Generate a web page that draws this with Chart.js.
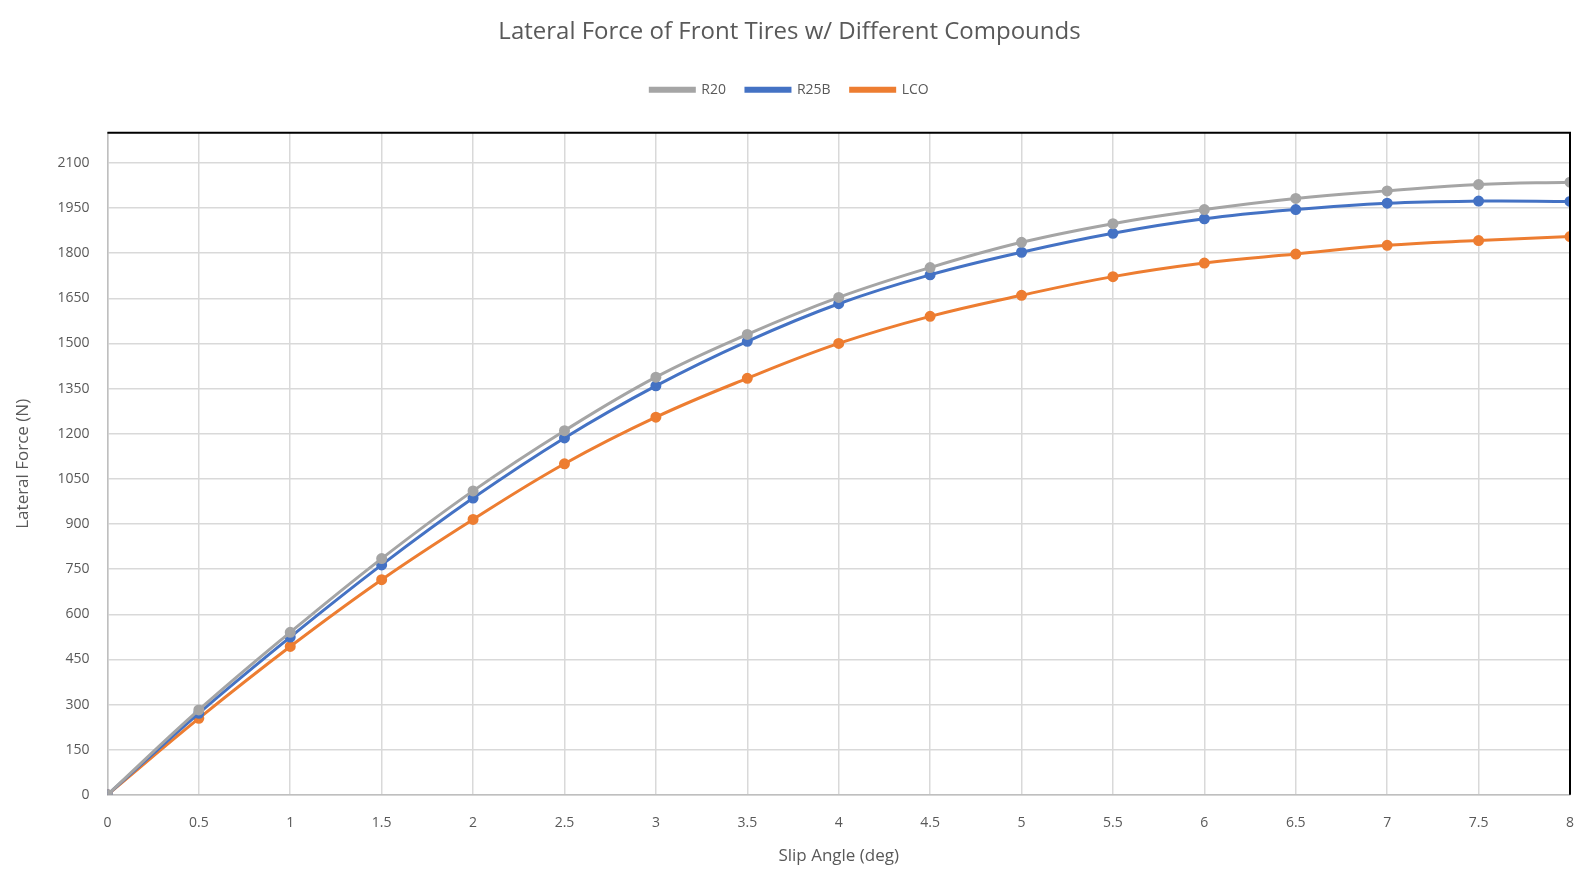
<!DOCTYPE html>
<html>
<head>
<meta charset="utf-8">
<script src="https://cdn.jsdelivr.net/npm/chart.js@4"></script>
<style>
  html, body { margin: 0; padding: 0; background: #fff; }
  #wrap { width: 1582px; height: 890px; }
</style>
</head>
<body>
<div id="wrap"><canvas id="myChart"></canvas></div>
<script>
// slip angles (deg)
const slipAngles = [0, 0.5, 1, 1.5, 2, 2.5, 3, 3.5, 4, 4.5, 5, 5.5, 6, 6.5, 7, 7.5, 8];

// lateral force (N)
const r20 = [0, 282, 540, 785, 1010, 1210, 1388, 1530, 1653, 1752, 1836, 1898, 1945, 1982, 2007, 2028, 2036];
const r25b = [0, 271, 524, 764, 986, 1186, 1359, 1507, 1632, 1728, 1803, 1866, 1914, 1945, 1966, 1973, 1972];
const lco = [0, 254, 493, 715, 915, 1100, 1255, 1384, 1500, 1590, 1660, 1722, 1767, 1797, 1826, 1842, 1855];

const seriesNames = ["R20", "R25B", "LCO"];
const seriesColors = ["#a5a5a5", "#4472c4", "#ed7d31"];

const textColor = "#595959";
const fontName = "'Open Sans', 'Liberation Sans', sans-serif";

function toPoints(values) {
    return slipAngles.map((x, i) => ({ x: x, y: values[i] }));
}

const allSeries = [r20, r25b, lco];
const datasets = allSeries.map((vals, i) => ({
    label: seriesNames[i],
    data: toPoints(vals),
    borderColor: seriesColors[i],
    backgroundColor: seriesColors[i],
    borderWidth: 3,
    pointRadius: 4,
    pointHoverRadius: 4,
    tension: 0.4,
    fill: false
}));

// black frame on top and right of the plot area, like the original
const framePlugin = {
    id: "frame",
    beforeInit(chart) {
        // extra room under the legend
        const origFit = chart.legend.fit;
        chart.legend.fit = function () {
            origFit.bind(chart.legend)();
            this.height += 26;
        };
    },
    afterDraw(chart) {
        const a = chart.chartArea;
        const ctx = chart.ctx;
        ctx.save();
        ctx.strokeStyle = "#000";
        ctx.lineWidth = 2;
        ctx.beginPath();
        ctx.moveTo(a.left, a.top);
        ctx.lineTo(a.right, a.top);
        ctx.lineTo(a.right, a.bottom);
        ctx.stroke();
        ctx.restore();
    }
};

const config = {
    type: "line",
    data: { datasets: datasets },
    plugins: [framePlugin],
    options: {
        responsive: true,
        maintainAspectRatio: false,
        animation: false,
        layout: { padding: { left: 9, right: 12, top: 6, bottom: 20 } },
        plugins: {
            title: {
                display: true,
                text: "Lateral Force of Front Tires w/ Different Compounds",
                color: textColor,
                font: { family: fontName, size: 24, weight: "normal" },
                padding: { top: 12, bottom: 16 }
            },
            legend: {
                display: true,
                labels: {
                    color: textColor,
                    font: { family: fontName, size: 14 },
                    boxWidth: 44,
                    boxHeight: 3,
                    padding: 20
                }
            },
            tooltip: { enabled: false }
        },
        scales: {
            x: {
                type: "linear",
                min: 0,
                max: 8,
                ticks: {
                    stepSize: 0.5,
                    color: textColor,
                    font: { family: fontName, size: 14 },
                    maxRotation: 0,
                    padding: 4,
                    callback: v => String(v)
                },
                grid: { color: "#d9d9d9", lineWidth: 1.5, drawTicks: true, tickLength: 16, tickColor: "rgba(0,0,0,0)" },
                border: { color: "#bfbfbf", width: 1.5 },
                title: {
                    display: true,
                    text: "Slip Angle (deg)",
                    color: textColor,
                    font: { family: fontName, size: 17 },
                    padding: { top: 10 }
                }
            },
            y: {
                min: 0,
                max: 2200,
                afterBuildTicks(scale) {
                    scale.ticks = scale.ticks.filter(t => t.value % 150 === 0);
                },
                ticks: {
                    stepSize: 150,
                    color: textColor,
                    font: { family: fontName, size: 14 },
                    padding: 18,
                    callback: v => String(v)
                },
                grid: { color: "#d9d9d9", lineWidth: 1.5, drawTicks: false },
                border: { color: "#bfbfbf", width: 1.5 },
                title: {
                    display: true,
                    text: "Lateral Force (N)",
                    color: textColor,
                    font: { family: fontName, size: 17 },
                    padding: { bottom: 6 }
                }
            }
        }
    }
};

new Chart("myChart", config);
</script>
</body>
</html>
